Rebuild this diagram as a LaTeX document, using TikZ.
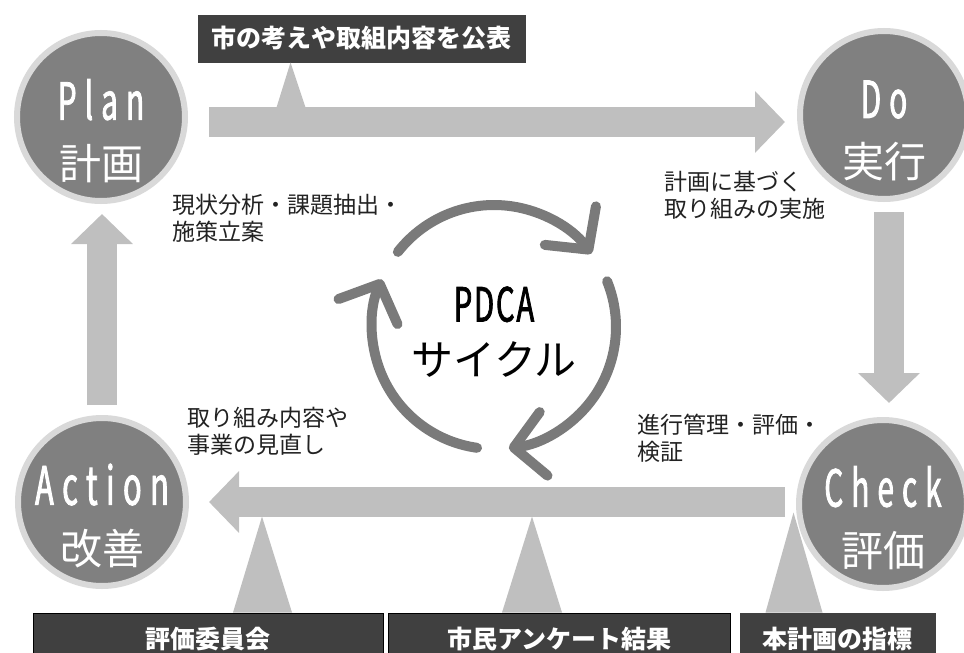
\documentclass[tikz,border=0pt]{standalone}
\usepackage{fontspec}
\setmainfont{Noto Sans CJK JP}
\newfontfamily\latin[FakeStretch=0.58,LetterSpace=16,FakeBold=1.6]{Noto Sans CJK JP}
\newfontfamily\latintight[FakeStretch=0.62,LetterSpace=4,FakeBold=1.6]{Noto Sans CJK JP}
\usetikzlibrary{arrows.meta, positioning, calc}

\definecolor{stagegray}{HTML}{808080}
\definecolor{ringgray}{HTML}{D9D9D9}
\definecolor{flowgray}{HTML}{BFBFBF}
\definecolor{boxgray}{HTML}{404040}
\definecolor{cyclegray}{HTML}{7A7A7A}
\definecolor{notegray}{HTML}{222222}

\tikzset{
  stage/.style={circle, fill=stagegray, draw=ringgray, line width=6pt, minimum size=168pt, inner sep=0pt},
  stagetext/.style={text=white, align=center, inner sep=0pt, font=\fontsize{42}{60}\selectfont},
  flow/.style={draw=flowgray, line width=30pt, -{Triangle[length=30pt,width=60pt]}},
  tri/.style={fill=flowgray},
  infobox/.style={fill=boxgray, draw=black, line width=1pt, text=white, inner sep=0pt,
    minimum height=52pt, font=\bfseries\fontsize{25}{25}\selectfont},
  note/.style={anchor=north west, align=left, inner sep=0pt, text=notegray, font=\fontsize{23}{27}\selectfont},
  turn/.style={draw=cyclegray, line width=10pt, line cap=round, -{Straight Barb[length=30pt,width=64pt,round]}}
}

\begin{document}
\begin{tikzpicture}[x=1pt, y=-1pt]
\clip (0,0) rectangle (964,653);

% the four stages
\node[stage] (plan) at (101,117) {};
\node[stage] (do) at (884,115) {};
\node[stage] (action) at (102,502) {};
\node[stage] (check) at (883,504) {};

\node[stagetext] (plantxt) at ([yshift=-14pt]plan.center) {{\latin\fontsize{51}{60}\selectfont Plan}\\計画};
\node[stagetext] (dotxt) at ([yshift=-16pt]do.center) {{\latin\fontsize{51}{60}\selectfont Do}\\実行};
\node[stagetext] (actiontxt) at ([yshift=-14pt]action.center) {{\latin\fontsize{53}{60}\selectfont Action}\\改善};
\node[stagetext] (checktxt) at ([yshift=-14pt]check.center) {{\latin\fontsize{51}{60}\selectfont Check}\\評価};

% flow between stages
\draw[flow, shorten <=21pt, shorten >=12pt] ([yshift=-5pt]plan.east) -- ([yshift=-7pt]do.west);
\draw[flow, shorten <=10pt, shorten >=14pt] ([xshift=5pt]do.south) -- ([xshift=6pt]check.north);
\draw[flow, shorten <=11pt, shorten >=20pt] ([yshift=2pt]check.west) -- (action.east);
\draw[flow, shorten <=10pt, shorten >=10pt] (action.north) -- ([xshift=1pt]plan.south);

% boxes
\node[infobox, draw=boxgray, minimum width=327pt, minimum height=47pt] (pub) at (361.5,38.5) {市の考えや取組内容を公表};
\node[infobox, minimum width=350pt] (cmt) at (208,639) {評価委員会};
\node[infobox, minimum width=342pt] (survey) at (559,639) {市民アンケート結果};
\node[infobox, draw=boxgray, minimum width=195pt] (index) at (837.5,639) {本計画の指標};

% pointers
\fill[tri] ([xshift=-71pt]pub.south) -- ++(-14,45) -- ++(29,0) -- cycle;
\fill[tri] ([xshift=25pt]cmt.north) -- ++(29,-96) -- ++(30,96) -- cycle;
\fill[tri] ([xshift=-57pt]survey.north) -- ++(30,-96) -- ++(30,96) -- cycle;
\fill[tri] ([xshift=-72pt]index.north) -- ++(28,-100) -- ++(29,100) -- cycle;

% notes
\node[note] (plannote) at (172,194) {現状分析・課題抽出・\\施策立案};
\node[note] (donote) at (664,171) {計画に基づく\\取り組みの実施};
\node[note] (actionnote) at (187,407) {取り組み内容や\\事業の見直し};
\node[note] (checknote) at (637,414) {進行管理・評価・\\検証};

% cycle
\coordinate (hub) at (494,327);
\foreach \a [evaluate=\a as \b using \a+105] in {-142,-22,98}
  \draw[turn] (hub) ++(\a:122) arc[start angle=\a, end angle=\b, radius=122];
\node[align=center, inner sep=0pt, font=\fontsize{42}{54}\selectfont] (pdca) at (494,332)
  {{\latintight\fontsize{47}{54}\selectfont PDCA}\\サイクル};
\end{tikzpicture}
\end{document}
